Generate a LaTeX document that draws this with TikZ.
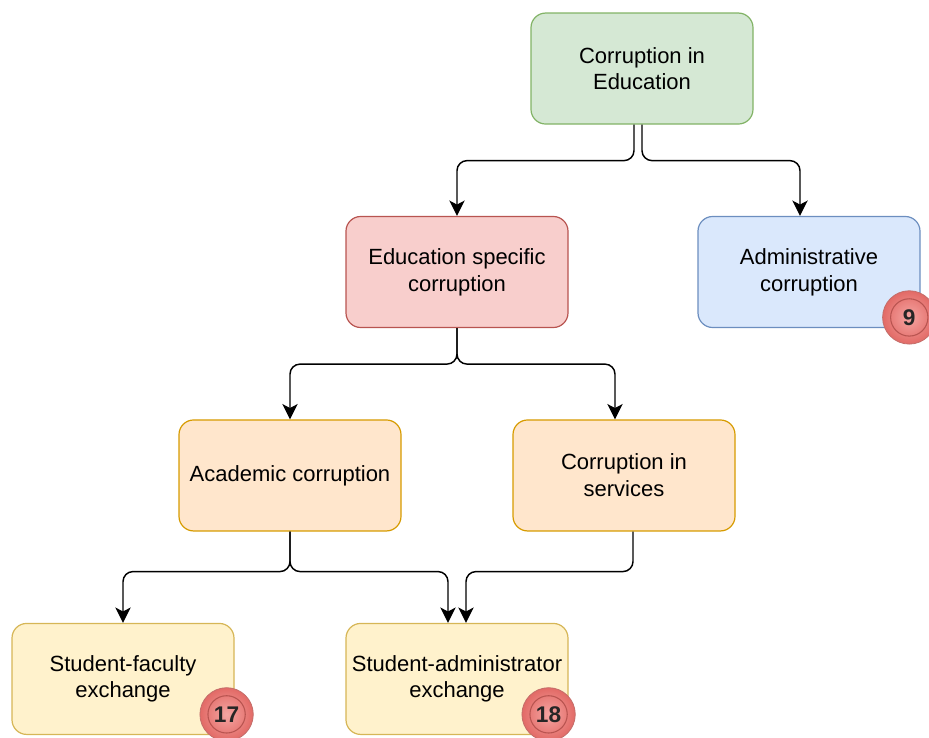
\documentclass[tikz,border=0pt]{standalone}
\usepackage{fontspec}
\setmainfont{Liberation Sans}
\usetikzlibrary{arrows.meta}
\definecolor{greenfill}{HTML}{D5E8D4}\definecolor{greenline}{HTML}{82B366}
\definecolor{redfill}{HTML}{F8CECC}\definecolor{redline}{HTML}{B85450}
\definecolor{bluefill}{HTML}{DAE8FC}\definecolor{blueline}{HTML}{6C8EBF}
\definecolor{orangefill}{HTML}{FFE6CC}\definecolor{orangeline}{HTML}{D79B00}
\definecolor{yellowfill}{HTML}{FFF2CC}\definecolor{yellowline}{HTML}{D6B656}
\definecolor{badgein}{HTML}{F5A5A2}\definecolor{badgeout}{HTML}{E26A66}
\tikzset{
  box/.style={draw, rounded corners=11pt, minimum width=166.5pt, minimum height=83.25pt,
    line width=0.9pt, align=center, font=\fontsize{16.5}{20}\selectfont},
  topbox/.style={box, fill=greenfill, draw=greenline},
  specbox/.style={box, fill=redfill, draw=redline},
  adminbox/.style={box, fill=bluefill, draw=blueline},
  kindbox/.style={box, fill=orangefill, draw=orangeline},
  leafbox/.style={box, fill=yellowfill, draw=yellowline},
  link/.style={-{Stealth[length=11.5pt,width=11.5pt,inset=3pt]}, line width=1.1pt, rounded corners=7.5pt},
  badge/.style={circle, draw=redline!85, line width=0.6pt, inner color=badgein, outer color=badgeout,
    minimum size=40pt, inner sep=0pt, text=black!85, font=\bfseries\fontsize{17}{17}\selectfont,
    path picture={\draw[redline, line width=0.8pt] (path picture bounding box.center) circle (14pt);}},
  node distance=152.6pt
}
\begin{document}
\begin{tikzpicture}
  \useasboundingbox (0,0) rectangle (696.75pt,-553.5pt);

  \node[topbox] (edu) at (481.5pt,-51.4pt) {Corruption in\\Education};

  \node[specbox] (spec) [below of=edu, xshift=-138.75pt] {Education specific\\corruption};
  \node[adminbox] (admin) [right of=spec, node distance=264pt] {Administrative\\corruption};

  \node[kindbox] (acad) [below of=spec, xshift=-125.25pt] {Academic corruption};
  \node[kindbox] (serv) [right of=acad, node distance=250.5pt] {Corruption in\\services};

  \node[leafbox] (stfac) [below of=acad, xshift=-125.25pt] {Student-faculty\\exchange};
  \node[leafbox] (stadm) [right of=stfac, node distance=250.5pt] {Student-administrator\\exchange};

  \node[badge] (n9) at ([shift={(-8.5pt,8pt)}]admin.south east) {9};
  \node[badge] (n17) at ([shift={(-6pt,15.5pt)}]stfac.south east) {17};
  \node[badge] (n18) at ([shift={(-15pt,15.5pt)}]stadm.south east) {18};

  \draw[link] ([xshift=-6pt]edu.south) -- ++(0,-27pt) -| (spec.north);
  \draw[link] (edu.south) -- ++(0,-27pt) -| ([xshift=-6.75pt]admin.north);
  \draw[link] (spec.south) -- ++(0,-27pt) -| (acad.north);
  \draw[link] (spec.south) -- ++(0,-27pt) -| ([xshift=-6.75pt]serv.north);
  \draw[link] (acad.south) -- ++(0,-30pt) -| (stfac.north);
  \draw[link] (acad.south) -- ++(0,-30pt) -| ([xshift=-6.75pt]stadm.north);
  \draw[link] ([xshift=6.75pt]serv.south) -- ++(0,-30pt) -| ([xshift=6.75pt]stadm.north);
\end{tikzpicture}
\end{document}
